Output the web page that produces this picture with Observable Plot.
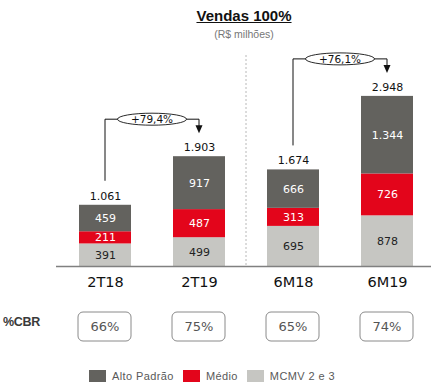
<!DOCTYPE html>
<html>
<head>
<meta charset="utf-8">
<script src="https://cdn.jsdelivr.net/npm/d3@7"></script>
<script src="https://cdn.jsdelivr.net/npm/@observablehq/plot@0.6"></script>
<style>
  html, body { margin: 0; padding: 0; background: #fff; }
  #wrap { width: 431px; height: 385px; overflow: hidden; }
  #head { height: 45px; box-sizing: border-box; padding-left: 57px; text-align: center; font-family: "Liberation Sans", Arial, sans-serif; }
  #title { padding-top: 7px; font-size: 15px; line-height: 18px; font-weight: bold; color: #111; }
  #title span { text-decoration: underline; }
  #sub { margin-top: 3px; font-size: 10.5px; line-height: 12px; color: #777; }
  #legend { height: 40px; box-sizing: border-box; padding-top: 22px; padding-left: 89px; display: flex; align-items: center; font-family: "Liberation Sans", Arial, sans-serif; font-size: 11px; letter-spacing: 0.4px; color: #595959; }
  #legend .sw { width: 17px; height: 12px; margin-right: 6px; flex: none; }
  #legend .lab { margin-right: 9px; white-space: nowrap; line-height: 12px; }
  svg { display: block; }
</style>
</head>
<body>
<div id="wrap">
  <div id="head">
    <div id="title"><span>Vendas 100%</span></div>
    <div id="sub">(R$ milhões)</div>
  </div>
  <div id="chart"></div>
  <div id="legend"></div>
</div>
<script>
// ---- data ----
const categories = ["2T18", "2T19", "6M18", "6M19"];
const seriesNames = ["Alto Padrão", "Médio", "MCMV 2 e 3"];
const altoPadrao = [459, 917, 666, 1344];
const medio = [211, 487, 313, 726];
const mcmv = [391, 499, 695, 878];
const cbrLabels = ["66%", "75%", "65%", "74%"];
const growthPairs = [["2T18", "2T19"], ["6M18", "6M19"]];
const growthLabels = ["+79,4%", "+76,1%"];
const colors = ["#63625e", "#e3051b", "#c6c6c2"];

// ---- build tables ----
const valuesBySeries = [altoPadrao, medio, mcmv];
// stack bottom-to-top: MCMV, Médio, Alto Padrão
const stackOrder = [2, 1, 0];
const rows = [];
for (const s of stackOrder) {
  categories.forEach((c, i) => rows.push({cat: c, series: seriesNames[s], value: valuesBySeries[s][i]}));
}
const totals = categories.map((c, i) => ({cat: c, total: altoPadrao[i] + medio[i] + mcmv[i]}));
const totalOf = Object.fromEntries(totals.map(d => [d.cat, d.total]));

const ptBR = d3.formatLocale({decimal: ",", thousands: ".", grouping: [3], currency: ["R$", ""]});
const fmt = ptBR.format(",d");

const numFont = "DejaVu Sans, Verdana, sans-serif";

function annotations(index, scales, values, dimensions) {
  const x = scales.x, y = scales.y;
  const bw = typeof x.bandwidth === "function" ? x.bandwidth() : x.bandwidth;
  const cx = c => x(c) + bw / 2;
  const g = d3.create("svg:g");

  // dashed separator between 2T19 and 6M18
  const sepX = (x("2T19") + bw + x("6M18")) / 2;
  g.append("line")
    .attr("x1", sepX).attr("x2", sepX)
    .attr("y1", 10).attr("y2", y(0))
    .attr("stroke", "#b8b8b8").attr("stroke-width", 1)
    .attr("stroke-dasharray", "2,2");

  // growth connectors
  growthPairs.forEach(([a, b], k) => {
    const xa = cx(a), xb = cx(b);
    const ya = y(totalOf[a]) - 24;
    const level = Math.min(y(totalOf[a]), y(totalOf[b])) - 37;
    const tip = y(totalOf[b]) - 23;
    g.append("path")
      .attr("d", `M${xa},${ya}V${level}H${xb}V${tip - 7}`)
      .attr("fill", "none").attr("stroke", "#111").attr("stroke-width", 1);
    g.append("path")
      .attr("d", `M${xb - 3.5},${tip - 8}L${xb + 3.5},${tip - 8}L${xb},${tip}Z`)
      .attr("fill", "#111");
    const mx = (xa + xb) / 2;
    g.append("ellipse")
      .attr("cx", mx).attr("cy", level).attr("rx", 34.5).attr("ry", 6)
      .attr("fill", "#fff").attr("stroke", "#111").attr("stroke-width", 0.9);
    g.append("text")
      .attr("x", mx).attr("y", level).attr("dy", "0.35em")
      .attr("text-anchor", "middle")
      .attr("font-family", numFont).attr("font-size", 10.5).attr("fill", "#111")
      .text(growthLabels[k]);
  });

  // %CBR row
  g.append("text")
    .attr("x", 3).attr("y", 277).attr("dy", "0.35em")
    .attr("text-anchor", "start")
    .attr("font-family", "Liberation Sans, Arial, sans-serif")
    .attr("font-weight", "bold").attr("font-size", 12.5).attr("fill", "#3a3a3a")
    .attr("letter-spacing", "-0.3")
    .text("%CBR");
  categories.forEach((c, i) => {
    g.append("rect")
      .attr("x", x(c) - 1).attr("y", 267).attr("width", bw + 1).attr("height", 29)
      .attr("rx", 5).attr("ry", 5)
      .attr("fill", "#fff").attr("stroke", "#8a8a8a").attr("stroke-width", 1);
    g.append("text")
      .attr("x", cx(c)).attr("y", 281.5).attr("dy", "0.35em")
      .attr("text-anchor", "middle")
      .attr("font-family", numFont).attr("font-size", 13).attr("fill", "#555")
      .text(cbrLabels[i]);
  });
  return g.node();
}

const chart = Plot.plot({
  width: 431,
  height: 300,
  marginTop: 0,
  marginBottom: 79,
  marginLeft: 60,
  marginRight: 0,
  style: {fontFamily: numFont, fontSize: "11px", color: "#111", background: "#fff"},
  x: {domain: categories, paddingInner: 0.45, paddingOuter: 0.18},
  y: {domain: [0, 3830], axis: null},
  color: {domain: seriesNames, range: colors},
  marks: [
    Plot.barY(rows, {x: "cat", y: "value", fill: "series", z: "series"}),
    Plot.text(rows, Plot.stackY({
      x: "cat", y: "value", z: "series",
      text: d => fmt(d.value),
      fill: d => d.series === "MCMV 2 e 3" ? "#222" : "#fff",
      fontSize: 11
    })),
    Plot.text(totals, {x: "cat", y: "total", text: d => fmt(d.total), dy: -9, fontSize: 11, fill: "#111"}),
    Plot.ruleY([0], {stroke: "#808080", strokeWidth: 1.5, insetLeft: -4}),
    Plot.axisX({tickSize: 0, tickPadding: 10, fontSize: 14.5, label: null, fill: "#111"}),
    annotations
  ]
});
document.getElementById("chart").appendChild(chart);

// legend
const legend = document.getElementById("legend");
seriesNames.forEach((s, i) => {
  const sw = document.createElement("span");
  sw.className = "sw";
  sw.style.background = colors[i];
  const lab = document.createElement("span");
  lab.className = "lab";
  lab.textContent = s;
  legend.appendChild(sw);
  legend.appendChild(lab);
});
</script>
</body>
</html>
